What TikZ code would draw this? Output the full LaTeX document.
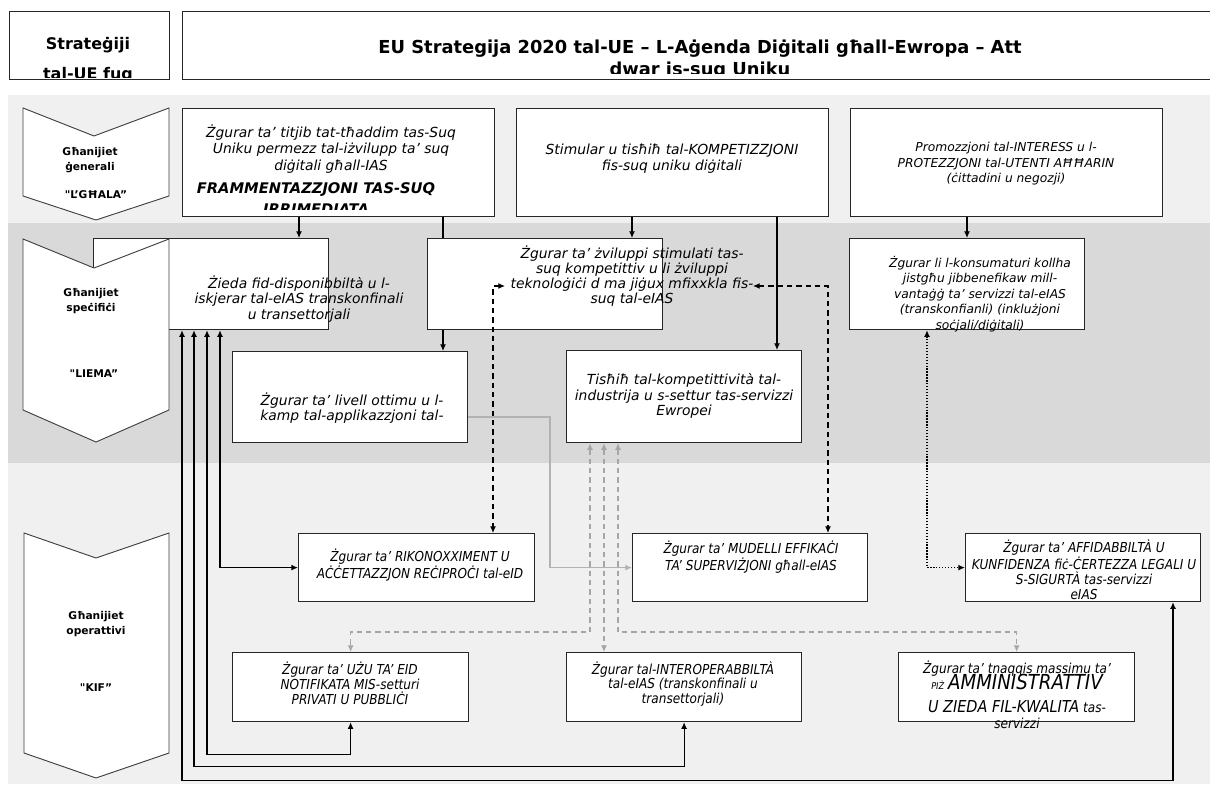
\documentclass[tikz,border=0pt]{standalone}
\usepackage{fontspec}
\setmainfont{DejaVu Sans}[Ligatures=TeXOff]
\newfontfamily\narrowfont[FakeStretch=0.88]{DejaVu Sans}
\usetikzlibrary{arrows.meta,calc}
\pgfdeclarelayer{back}
\pgfsetlayers{back,main}

\tikzset{
		band/.style={fill=#1,draw=none},
		goal/.style={rectangle,draw=black!85,fill=white,line width=0.9pt,inner sep=0pt,anchor=north west},
		chevron/.style={draw=black!75,fill=white,line width=0.7pt},
		headtext/.style={align=center,inner sep=0pt,font=\bfseries\fontsize{13.4}{16.5}\selectfont},
		levtext/.style={align=center,inner sep=0pt,font=\bfseries\fontsize{8}{11.5}\selectfont},
		aimtext/.style={align=center,inner sep=0pt,font=\itshape\fontsize{10.4}{11.4}\selectfont},
		toptext/.style={aimtext,font=\itshape\fontsize{10.4}{12.2}\selectfont},
		smalltext/.style={align=center,inner sep=0pt,font=\itshape\fontsize{9.2}{11.6}\selectfont},
		optext/.style={align=center,inner sep=0pt,font=\narrowfont\itshape\fontsize{10.3}{11.2}\selectfont},
		link/.style={line width=0.9pt,-{Latex[length=5pt,width=4.5pt]}},
		link2/.style={line width=0.9pt,{Latex[length=5pt,width=4.5pt]}-{Latex[length=5pt,width=4.5pt]}},
		dashlink/.style={link2,dash pattern=on 4pt off 3pt},
		dotlink/.style={link2,line width=1.2pt,dash pattern=on 1pt off 1.2pt},
		greylink/.style={link,color=black!30},
		greydash/.style={link2,color=black!35,dash pattern=on 4pt off 3pt}
	}

% box from top left (#2,#3) to bottom right (#4,#5), in pixels
\newcommand{\goalbox}[5]{\node[goal,minimum width={(#4-#2)*0.75pt},minimum height={(#5-#3)*0.75pt}] (#1) at (#2,#3) {};}

\begin{document}
\begin{tikzpicture}[x=0.75pt,y=-0.75pt]
	\useasboundingbox (0,0) rectangle (1210,787);

	% header
	\goalbox{hdL}{8.5}{11}{169}{79}
	\goalbox{hdR}{182}{11}{1216}{79}
	\begin{scope}
		\clip (hdL.north west) rectangle ($(hdL.south east)+(0,-3)$);
		\node[headtext,font=\bfseries\fontsize{12}{23}\selectfont] (hdLt) at (88,60) {Strateġiji\\tal-UE fuq};
	\end{scope}
	\begin{scope}
		\clip (hdR.north west) rectangle ($(hdR.south east)+(0,-7)$);
		\node[headtext] (hdRt) at (700,60) {EU Strategija 2020 tal-UE – L-Aġenda Diġitali għall-Ewropa – Att\\dwar is-suq Uniku};
	\end{scope}

	\coordinate (p443) at (443,0);
	\coordinate (p777) at (777,0);
	\coordinate (p967) at (967,0);
	\coordinate (p220) at (220,0);
	\coordinate (p207) at (207,0);
	\coordinate (p194) at (194,0);
	\coordinate (p182) at (182,0);
	\coordinate (p1173) at (1173,0);
	\coordinate (p493) at (493,0);
	\coordinate (p828) at (828,0);
	\coordinate (p927) at (927,0);
	\coordinate (p590) at (590,0);
	\coordinate (p604) at (604,0);
	\coordinate (p618) at (618,0);
	\coordinate (g1) at (550,417);
	\coordinate (k1) at (505,286);
	\coordinate (k2) at (753,286);

	% goals
	\goalbox{A1}{182}{108}{494}{216}
	\goalbox{A2}{516}{108}{828}{216}
	\goalbox{A3}{850}{108}{1162}{216}
	\goalbox{B1}{93}{238}{328}{329}
	\goalbox{B2}{427}{238}{662}{329}
	\goalbox{B3}{849}{238}{1084}{329}
	\goalbox{C1}{232}{351}{467}{442}
	\goalbox{C2}{566}{350}{801}{442}
	\goalbox{D1}{298}{533}{534}{601}
	\goalbox{D2}{632}{533}{867}{601}
	\goalbox{D3}{965}{533}{1200}{601}
	\goalbox{E1}{232}{652}{468}{721}
	\goalbox{E2}{566}{652}{801}{721}
	\goalbox{E3}{898}{652}{1134}{721}

	% levels and the link running behind B2
	\begin{pgfonlayer}{back}
		\fill[band=black!6] (8,95) rectangle (1210,223);
		\fill[band=black!15] (8,223) rectangle (1210,463);
		\fill[band=black!6] (8,463) rectangle (1210,784);
		\draw[link] (A1.south -| p443) -- (C1.north -| p443);
	\end{pgfonlayer}

	% levels, left
	\draw[chevron] (23,108) -- (94,136) -- (169,108) -- (169,196) -- (96,220) -- (23,196) -- cycle;
	\draw[chevron] (23,239) -- (94,268) -- (169,239) -- (169,410) -- (96,442) -- (23,410) -- cycle;
	\draw[chevron] (24,533) -- (96,558) -- (169,533) -- (169,753) -- (96,778) -- (24,753) -- cycle;
	\node[levtext] (lv1) at (90,160) {Għanijiet\\ġenerali};
	\node[levtext] (lv1q) at (96,195) {"L’GĦALA”};
	\node[levtext] (lv2) at (91,301) {Għanijiet\\speċifiċi};
	\node[levtext] (lv2q) at (94,374) {"LIEMA”};
	\node[levtext] (lv3) at (96,624) {Għanijiet\\operattivi};
	\node[levtext] (lv3q) at (96,688) {"KIF”};

	% texts
	\node[toptext] (A1t) at (331,149) {Żgurar ta’ titjib tat-tħaddim tas-Suq\\Uniku permezz tal-iżvilupp ta’ suq\\diġitali għall-IAS};
	\begin{scope}
		\clip (A1.north west) rectangle ($(A1.south east)+(0,-8)$);
		\node[aimtext,font=\bfseries\itshape\fontsize{11}{15.5}\selectfont] (A1b) at (316,200) {FRAMMENTAZZJONI TAS-SUQ\\IRRIMEDJATA};
	\end{scope}
	\node[toptext] (A2t) at (672,159) {Stimular u tisħiħ tal-KOMPETIZZJONI\\fis-suq uniku diġitali};
	\node[smalltext] (A3t) at (1006,164) {Promozzjoni tal-INTERESS u l-\\PROTEZZJONI tal-UTENTI AĦĦARIN\\(ċittadini u negozji)};
	\node[aimtext] (B1t) at (299,299) {Żieda fid-disponibbiltà u l-\\iskjerar tal-eIAS transkonfinali\\u transettorjali};
	\node[aimtext] (B2t) at (632,276) {Żgurar ta’ żviluppi stimulati tas-\\suq kompetittiv u li żviluppi\\teknoloġiċi d ma jiġux mfixxkla fis-\\suq tal-eIAS};
	\node[smalltext] (B3t) at (980,294) {Żgurar li l-konsumaturi kollha\\jistgħu jibbenefikaw mill-\\vantaġġ ta’ servizzi tal-eIAS\\(transkonfianli) (inklużjoni\\soċjali/diġitali)};
	\node[aimtext] (C1t) at (352,408) {Żgurar ta’ livell ottimu u l-\\kamp tal-applikazzjoni tal-};
	\node[aimtext] (C2t) at (684,396) {Tisħiħ tal-kompetittività tal-\\industrija u s-settur tas-servizzi\\Ewropei};
	\node[optext] (D1t) at (420,565) {Żgurar ta’ RIKONOXXIMENT U\\AĊĊETTAZZJON REĊIPROĊI tal-eID};
	\node[optext] (D2t) at (751,557) {Żgurar ta’ MUDELLI EFFIKAĊI\\TA’ SUPERVIŻJONI għall-eIAS};
	\node[optext] (D3t) at (1084,570) {Żgurar ta’ AFFIDABBILTÀ U\\KUNFIDENZA fiċ-ĊERTEZZA LEGALI U\\S-SIGURTÀ tas-servizzi\\eIAS};
	\node[optext] (E1t) at (350,683) {Żgurar ta’ UŻU TA’ EID\\NOTIFIKATA MIS-setturi\\PRIVATI U PUBBLIĊI};
	\node[optext] (E2t) at (683,684) {Żgurar tal-INTEROPERABBILTÀ\\tal-eIAS (transkonfinali u\\transettorjali)};
	\node[optext] (E3t) at (1017,695) {Żgurar ta’ tnaqqis massimu ta’\\[-2.2pt]{\fontsize{7}{8}\selectfont PIŻ} {\fontsize{15.5}{16}\selectfont AMMINISTRATTIV}\\[6pt]{\fontsize{12.3}{14}\selectfont U ZIEDA FIL-KWALITA} tas-\\[0.8pt]servizzi};

	% links
	\draw[link] (A1.south -| B1t) -- (B1.north -| B1t);
	\draw[link] (A2.south -| B2t) -- (B2.north -| B2t);
	\draw[link] (A2.south -| p777) -- (C2.north -| p777);
	\draw[link] (A3.south -| p967) -- (B3.north -| p967);
	\draw[link2] (B1.south -| p220) |- (D1.west);
	\draw[link2] (B1.south -| p207) |- ($(E1.south)+(0,32)$) -- (E1.south);
	\draw[link2] (B1.south -| p194) |- ($(E2.south)+(0,44)$) -- (E2.south);
	\draw[link2] (B1.south -| p182) |- ($(D3.south -| p1173)+(0,178)$) -- (D3.south -| p1173);
	\draw[dashlink] (k1) -| (D1.north -| p493);
	\draw[dashlink] (k2) -| (D2.north -| p828);
	\draw[dotlink] (B3.south -| p927) |- (D3.west);
	\draw[greylink] (C1.east |- g1) -- (g1) |- (D2.west);
	\draw[greydash] (C2.south -| p590) |- ($(E1.north)+(0,-20)$) -- (E1.north);
	\draw[greydash] (C2.south -| p604) -- (E2.north -| p604);
	\draw[greydash] (C2.south -| p618) |- ($(E3.north)+(0,-20)$) -- (E3.north);
\end{tikzpicture}
\end{document}
